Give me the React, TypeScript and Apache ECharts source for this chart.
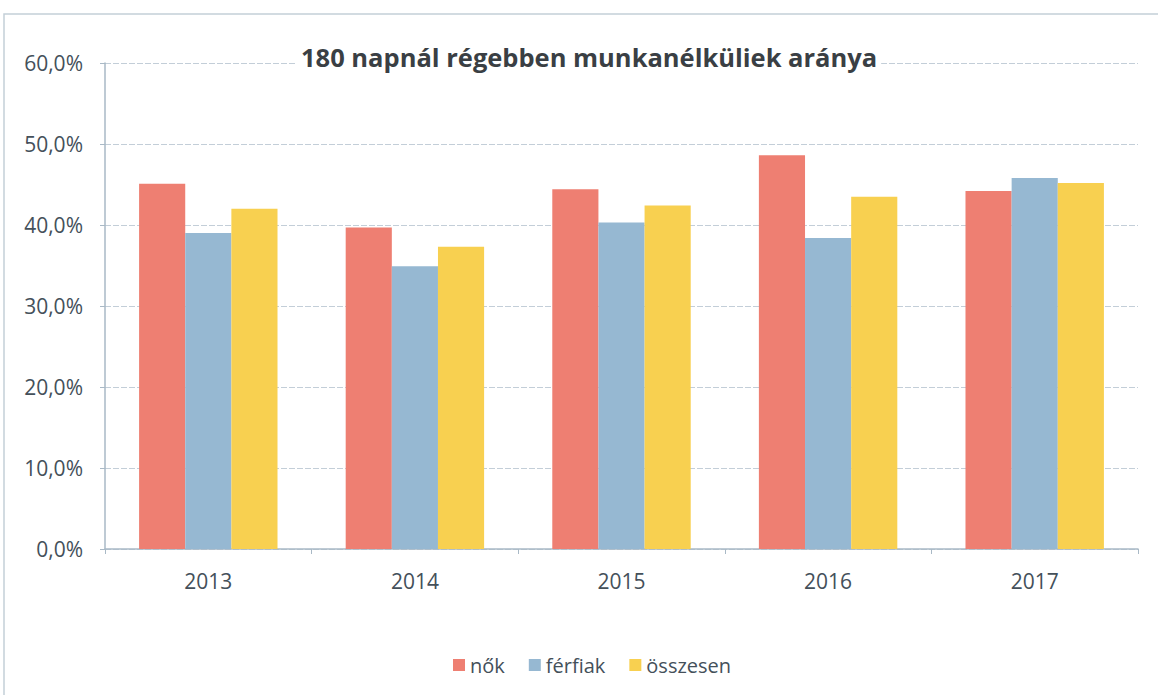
import React, { useEffect, useRef } from "react";
import * as echarts from "echarts";

const categories = ["2013", "2014", "2015", "2016", "2017"];
const nok = [45.1, 39.7, 44.4, 48.6, 44.2];
const ferfiak = [39.0, 34.9, 40.3, 38.4, 45.8];
const osszesen = [42.0, 37.3, 42.4, 43.5, 45.2];
const seriesNames = ["nők", "férfiak", "összesen"];
const colors = ["#EE7F72", "#96B8D2", "#F8D050"];
const titleText = "180 napnál régebben munkanélküliek aránya";

export default function App() {
  const ref = useRef<HTMLDivElement>(null);
  useEffect(() => {
    document.body.style.margin = "0";
    const chart = echarts.init(ref.current!, null, { renderer: "svg" });
    const textColor = "#44505A";
    const font = "'Open Sans', sans-serif";
    chart.setOption({
      animation: false,
      backgroundColor: "#ffffff",
      textStyle: { fontFamily: font },
      graphic: [
        {
          type: "rect",
          shape: { x: 4, y: 14, width: 1170, height: 700 },
          style: { fill: "none", stroke: "#C4CFD8", lineWidth: 1.5 },
          silent: true,
          z: -1,
        },
        {
          type: "text",
          left: 297,
          top: 44,
          style: {
            text: titleText,
            fill: "#3A3F44",
            font: `bold 25.5px ${font}`,
            backgroundColor: "#ffffff",
            padding: [0, 4],
          },
          z: 100,
        },
      ],
      grid: { left: 105, right: 20, top: 63, bottom: 146, containLabel: false },
      legend: {
        bottom: 15,
        left: 448,
        itemWidth: 12,
        itemHeight: 12,
        itemGap: 24,
        icon: "rect",
        textStyle: { color: textColor, fontSize: 20, fontFamily: font },
        data: seriesNames,
      },
      xAxis: {
        type: "category",
        data: categories,
        axisLine: { lineStyle: { color: "#A9B9C6", width: 1.5 } },
        axisTick: { show: true, alignWithLabel: false, length: 5, lineStyle: { color: "#A9B9C6" } },
        axisLabel: { color: textColor, fontSize: 21, margin: 21, fontFamily: font },
      },
      yAxis: {
        type: "value",
        min: 0,
        max: 60,
        interval: 10,
        axisLine: { show: true, lineStyle: { color: "#A9B9C6", width: 1.5 } },
        axisTick: { show: true, length: 5, lineStyle: { color: "#A9B9C6" } },
        axisLabel: {
          color: textColor,
          fontSize: 21,
          margin: 22,
          fontFamily: font,
          formatter: (v: number) => v.toFixed(1).replace(".", ",") + "%",
        },
        splitLine: { lineStyle: { color: "#C3CED8", type: [6, 2], width: 1 } },
      },
      series: [nok, ferfiak, osszesen].map((d, i) => ({
        name: seriesNames[i],
        type: "bar",
        data: d,
        barGap: "0%",
        barCategoryGap: "33%",
        itemStyle: { color: colors[i] },
      })),
    });
    return () => chart.dispose();
  }, []);
  return <div ref={ref} style={{ width: 1158, height: 695 }} />;
}
